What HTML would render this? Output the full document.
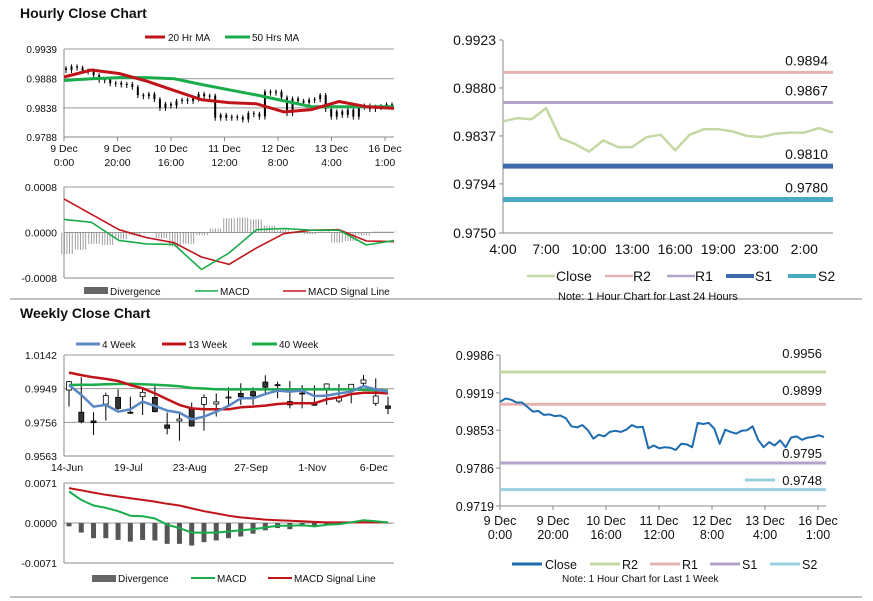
<!DOCTYPE html>
<html><head><meta charset="utf-8">
<style>
html,body{margin:0;padding:0;background:#fff;}
svg{display:block;font-family:"Liberation Sans",Arial,sans-serif;}
</style></head>
<body>
<svg id="root" width="873" height="601" viewBox="0 0 873 601" xmlns="http://www.w3.org/2000/svg">
<rect width="873" height="601" fill="#fff"/>
<text x="20" y="18" font-size="14" font-weight="bold" fill="#111">Hourly Close Chart</text>
<text x="20" y="318" font-size="14" font-weight="bold" fill="#111">Weekly Close Chart</text>
<line x1="10" y1="299" x2="862" y2="299" stroke="#999" stroke-width="1.2"/>
<line x1="10" y1="597" x2="862" y2="597" stroke="#999" stroke-width="1.2"/>
<g id="g"></g>
</svg>
<script>
// ---------- DATA ----------
const hourlyClose = [0.9903,0.9909,0.9907,0.9902,0.9902,0.9894,0.9886,0.9887,0.9880,0.9881,0.9878,0.9879,0.9874,0.9860,0.9858,0.9862,0.9853,0.9838,0.9845,0.9842,0.9850,0.9852,0.9850,0.9854,0.9862,0.9858,0.9859,0.9821,0.9826,0.9821,0.9823,0.9822,0.9818,0.9829,0.9828,0.9823,0.9866,0.9864,0.9866,0.9856,0.9829,0.9854,0.9850,0.9847,0.9852,0.9853,0.9860,0.9836,0.9823,0.9832,0.9826,0.9835,0.9823,0.9840,0.9842,0.9836,0.9840,0.9841,0.9844,0.9841];
const hourlyMA20 = [0.9891,0.9903,0.9897,0.9884,0.9868,0.9852,0.9847,0.9845,0.9831,0.9835,0.9849,0.9840,0.9837];
const hourlyMA50 = [0.9885,0.9888,0.9890,0.9890,0.9888,0.9878,0.9869,0.9860,0.9850,0.9840,0.9840,0.9840,0.9840];
const hourlyTicks = [0.9939,0.9888,0.9838,0.9788];
const hourlyXLabels = [["9 Dec","0:00"],["9 Dec","20:00"],["10 Dec","16:00"],["11 Dec","12:00"],["12 Dec","8:00"],["13 Dec","4:00"],["16 Dec","1:00"]];
const hMacd = [0.00023,0.00018,-0.00014,-0.00020,-0.00021,-0.00065,-0.00036,0.00005,0.00007,0.00004,0.00004,-0.00022,-0.00014];
const hSignal = [0.00059,0.00032,0.00005,-0.00009,-0.00018,-0.00043,-0.00056,-0.00027,-0.00002,0.00004,0.00005,-0.00015,-0.00016];
const hDiverg = [-0.00038,-0.00030,-0.00020,-0.00022,-0.00012,-0.00005,0,-0.00010,-0.00025,-0.00020,-0.00005,0.00007,0.00025,0.00026,0.00023,0.00012,0.00005,0.00002,-0.00003,0.00002,-0.00018,-0.00015,-0.00005,0.00002,0.00002];
const hMacdTicks = [0.0008,0,-0.0008];
const hMacdLabels = ["0.0008","0.0000","-0.0008"];

const wOpen  = [0.9941,0.9814,0.9764,0.9861,0.9899,0.9814,0.9903,0.9899,0.9741,0.9764,0.9831,0.9859,0.9861,0.9898,0.9922,0.9932,0.9987,0.9972,0.9875,0.9924,0.9865,0.9951,0.9878,0.9945,0.9980,0.9865,0.9850];
const wClose = [0.9989,0.9760,0.9754,0.9909,0.9836,0.9810,0.9928,0.9817,0.9722,0.9775,0.9735,0.9899,0.9873,0.9901,0.9903,0.9907,0.9957,0.9966,0.9856,0.9920,0.9854,0.9976,0.9899,0.9974,0.9999,0.9907,0.9836];
const wHigh  = [0.9993,1.0014,0.9814,0.9926,0.9945,0.9903,0.9951,0.9964,0.9812,0.9814,0.9869,0.9917,0.9922,0.9957,0.9980,0.9957,1.0026,0.9989,0.9993,0.9970,0.9968,0.9980,0.9976,0.9974,1.0027,1.0008,0.9903];
const wLow   = [0.9846,0.9750,0.9684,0.9766,0.9827,0.9804,0.9798,0.9814,0.9687,0.9651,0.9731,0.9708,0.9789,0.9856,0.9856,0.9856,0.9913,0.9894,0.9836,0.9836,0.9850,0.9856,0.9865,0.9865,0.9961,0.9850,0.9802];
const wMA4  = [0.9970,0.9913,0.9846,0.9856,0.9817,0.9831,0.9875,0.9850,0.9823,0.9812,0.9773,0.9789,0.9817,0.9850,0.9894,0.9894,0.9918,0.9938,0.9932,0.9938,0.9907,0.9909,0.9922,0.9932,0.9964,0.9945,0.9932];
const wMA13 = [1.0041,1.0027,1.0014,1.0005,0.9993,0.9970,0.9951,0.9922,0.9888,0.9856,0.9836,0.9831,0.9831,0.9831,0.9842,0.9846,0.9852,0.9861,0.9865,0.9865,0.9865,0.9888,0.9899,0.9918,0.9926,0.9926,0.9922];
const wMA40 = [0.9970,0.9971,0.9972,0.9974,0.9976,0.9977,0.9974,0.9972,0.9968,0.9963,0.9953,0.9950,0.9946,0.9945,0.9945,0.9945,0.9945,0.9945,0.9945,0.9945,0.9945,0.9945,0.9945,0.9945,0.9943,0.9941,0.9938];
const wTicks = [1.0142,0.9949,0.9756,0.9563];
const wXLabels = ["14-Jun","19-Jul","23-Aug","27-Sep","1-Nov","6-Dec"];
const wMacd = [0.0056,0.0041,0.0031,0.0027,0.0021,0.0013,0.0012,0.0008,-0.0003,-0.0009,-0.0017,-0.0017,-0.0017,-0.0015,-0.0013,-0.0011,-0.0008,-0.0005,-0.0005,-0.0004,-0.0006,-0.0003,-0.0002,0.0001,0.0005,0.0003,0.0001];
const wSignal = [0.0062,0.0058,0.0054,0.0050,0.0047,0.0044,0.0041,0.0038,0.0034,0.0031,0.0026,0.0021,0.0017,0.0013,0.0010,0.0008,0.0006,0.0005,0.0004,0.0003,0.0002,0.0001,0.0001,0.0001,0.0001,0.0001,0.0001];
const wDiverg = [-0.0006,-0.0017,-0.0027,-0.0027,-0.0030,-0.0033,-0.0030,-0.0031,-0.0037,-0.0037,-0.0040,-0.0034,-0.0031,-0.0027,-0.0024,-0.0019,-0.0013,-0.0009,-0.0011,-0.0006,-0.0006,-0.0003,-0.0002,0,0.0001,0,-0.0001];
const wMacdTicks = [0.0071,0,-0.0071];
const wMacdLabels = ["0.0071","0.0000","-0.0071"];

const dayClose = [0.9850,0.9853,0.9852,0.9862,0.9835,0.9830,0.9823,0.9833,0.9827,0.9827,0.9836,0.9838,0.9824,0.9838,0.9843,0.9843,0.9841,0.9837,0.9836,0.9839,0.9840,0.9840,0.9844,0.9840];
const dayLevels = [0.9894,0.9867,0.9810,0.9780];
const dayLevelNames = ["R2","R1","S1","S2"];
const dayTicks = [0.9923,0.9880,0.9837,0.9794,0.9750];
const dayXLabels = ["4:00","7:00","10:00","13:00","16:00","19:00","23:00","2:00"];
const dayXIdx = [0,3,6,9,12,15,18,21];

const weekLevels = [0.9956,0.9899,0.9795,0.9748];
const weekLevelNames = ["R2","R1","S1","S2"];
const weekTicks = [0.9986,0.9919,0.9853,0.9786,0.9719];

// ---------- HELPERS ----------
const NS="http://www.w3.org/2000/svg";
const G=document.getElementById('g');
function el(tag, attrs, parent){const e=document.createElementNS(NS,tag);for(const k in attrs)e.setAttribute(k,attrs[k]);(parent||G).appendChild(e);return e;}
function txt(x,y,s,size,anchor,fill){const t=el('text',{x:x,y:y,'font-size':size,'text-anchor':anchor||'start',fill:fill||'#111'});t.textContent=s;return t;}
function lin(v0,v1,p0,p1){return v=>p0+(v-v0)/(v1-v0)*(p1-p0);}
function poly(xs,ys,stroke,w){let d='';for(let i=0;i<xs.length;i++)d+=(i?'L':'M')+xs[i].toFixed(1)+','+ys[i].toFixed(1);return el('path',{d:d,fill:'none',stroke:stroke,'stroke-width':w,'stroke-linejoin':'round'});}
function axisFrame(x0,x1,y0,y1){el('line',{x1:x0,y1:y0,x2:x0,y2:y1,stroke:'#888','stroke-width':1});el('line',{x1:x0,y1:y1,x2:x1,y2:y1,stroke:'#888','stroke-width':1});}

// ---------- HOURLY PRICE ----------
(function(){
  const x0=64,x1=394,yT=49,yB=137;
  const y=lin(0.9939,0.9788,yT,yB);
  hourlyTicks.forEach((v,i)=>{
    const gl=el('line',{x1:x0,x2:x1,y1:y(v),y2:y(v),stroke:'#999','stroke-width':1});
    
    
    const t=txt(x0-7,y(v)+4,v.toFixed(4),10,'end');
    
    
  });
  axisFrame(x0,x1,yT,yB);
  const n=hourlyClose.length;
  const x=i=>x0+2+i*(x1-x0-4)/(n-1);
  for(let i=0;i<n;i++){
    const o=i?hourlyClose[i-1]:hourlyClose[0]+0.0003, c=hourlyClose[i];
    const top=Math.min(y(o),y(c)), h=Math.max(1,Math.abs(y(o)-y(c)));
    const w=el('line',{x1:x(i),x2:x(i),y1:top-2,y2:top+h+3,stroke:'#000','stroke-width':1});
    
    
    el('rect',{x:x(i)-1,y:top,width:2,height:h,fill:'#000'});
  }
  const m=hourlyMA20.length;
  const xm=i=>x0+i*(x1-x0)/(m-1);
  const g50=poly(hourlyMA50.map((v,i)=>xm(i)),hourlyMA50.map(y),'#1aab4a',3);
  
  
  const r20=poly(hourlyMA20.map((v,i)=>xm(i)),hourlyMA20.map(y),'#c0141a',3);
  
  
  hourlyXLabels.forEach((l,i)=>{
    const xx=x0+i*53.5;
    el('line',{x1:xx,x2:xx,y1:yB,y2:yB+4,stroke:'#888'});
    const t=txt(xx,yB+15,l[0],10.5,'middle');
    
    
    txt(xx,yB+29,l[1],10.5,'middle');
  });
  el('line',{x1:145,x2:165,y1:37,y2:37,stroke:'#c0141a','stroke-width':3});
  txt(168,41,'20 Hr MA',10);
  el('line',{x1:225,x2:250,y1:37,y2:37,stroke:'#1aab4a','stroke-width':3});
  txt(252,41,'50 Hrs MA',10);
})();

// ---------- HOURLY MACD ----------
(function(){
  const x0=64,x1=394,yT=187,yB=278;
  const y=lin(0.0008,-0.0008,yT,yB);
  hMacdTicks.forEach((v,i)=>{
    if(v!==-0.0008) el('line',{x1:x0,x2:x1,y1:y(v),y2:y(v),stroke:'#999'});
    const t=txt(x0-7,y(v)+4,hMacdLabels[i],10.5,'end');
    
    
  });
  axisFrame(x0,x1,yT,yB);
  const nd=hDiverg.length;
  for(let i=0;i<nd;i++){
    const xd=x0+3+i*(x1-x0-6)/(nd-1);
    for(let k=-2;k<=2;k++){
      const b=el('line',{x1:xd+k*2.6,x2:xd+k*2.6,y1:y(0),y2:y(hDiverg[i]),stroke:'#888','stroke-width':0.8});
      
      
    }
  }
  const m=hMacd.length, xm=i=>x0+i*(x1-x0)/(m-1);
  const s=poly(hSignal.map((v,i)=>xm(i)),hSignal.map(y),'#c0141a',1.6);
  
  
  const mc=poly(hMacd.map((v,i)=>xm(i)),hMacd.map(y),'#1aab4a',1.6);
  
  
  el('rect',{x:84,y:287,width:24,height:7,fill:'#666'});
  txt(110,295,'Divergence',10);
  el('line',{x1:195,x2:218,y1:291,y2:291,stroke:'#1aab4a','stroke-width':1.6});
  txt(220,295,'MACD',10);
  el('line',{x1:283,x2:306,y1:291,y2:291,stroke:'#c0141a','stroke-width':1.6});
  txt(308,295,'MACD Signal Line',10);
})();

// ---------- WEEKLY PRICE ----------
(function(){
  const x0=64,x1=394,yT=355,yB=456;
  const y=lin(1.0142,0.9563,yT,yB);
  wTicks.forEach(v=>{
    el('line',{x1:x0,x2:x1,y1:y(v),y2:y(v),stroke:'#999'});
    const t=txt(x0-7,y(v)+4,v.toFixed(4),10.5,'end');
    
    
  });
  axisFrame(x0,x1,yT,yB);
  const x=i=>69+i*12.27;
  for(let i=0;i<wOpen.length;i++){
    const w=el('line',{x1:x(i),x2:x(i),y1:y(wHigh[i]),y2:y(wLow[i]),stroke:'#000','stroke-width':1});
    
    
    const up=wClose[i]>=wOpen[i];
    const top=Math.min(y(wOpen[i]),y(wClose[i])), h=Math.max(1,Math.abs(y(wOpen[i])-y(wClose[i])));
    const b=el('rect',{x:x(i)-2.5,y:top,width:5,height:h,fill:up?'#fff':'#333',stroke:'#000','stroke-width':0.8});
    
    
  }
  const l40=poly(wMA40.map((v,i)=>x(i)),wMA40.map(y),'#1aab4a',2.5);
  
  
  const l13=poly(wMA13.map((v,i)=>x(i)),wMA13.map(y),'#c0141a',2.5);
  
  
  const l4=poly(wMA4.map((v,i)=>x(i)),wMA4.map(y),'#5b87c2',2.5);
  
  
  wXLabels.forEach((l,i)=>{
    const xx=x(i*5)-5;
    const t=txt(xx+3,yB+15,l,10.5,'middle');
    
    
  });
  el('line',{x1:76,x2:100,y1:344,y2:344,stroke:'#5b87c2','stroke-width':3});
  txt(102,348,'4 Week',10);
  el('line',{x1:162,x2:186,y1:344,y2:344,stroke:'#c0141a','stroke-width':3});
  txt(188,348,'13 Week',10);
  el('line',{x1:252,x2:277,y1:344,y2:344,stroke:'#1aab4a','stroke-width':3});
  txt(279,348,'40 Week',10);
})();

// ---------- WEEKLY MACD ----------
(function(){
  const x0=64,x1=394,yT=483,yB=563;
  const y=lin(0.0071,-0.0071,yT,yB);
  wMacdTicks.forEach((v,i)=>{
    el('line',{x1:x0,x2:x1,y1:y(v),y2:y(v),stroke:'#999'});
    const t=txt(x0-7,y(v)+4,wMacdLabels[i],10.5,'end');
    
    
  });
  axisFrame(x0,x1,yT,yB);
  const x=i=>69+i*12.27;
  wDiverg.forEach((v,i)=>{
    const b=el('rect',{x:x(i)-2.5,y:Math.min(y(0),y(v)),width:5,height:Math.max(0.5,Math.abs(y(v)-y(0))),fill:'#555'});
    
    
  });
  const s=poly(wSignal.map((v,i)=>x(i)),wSignal.map(y),'#c0141a',2);
  
  
  const m=poly(wMacd.map((v,i)=>x(i)),wMacd.map(y),'#1aab4a',2);
  
  
  el('rect',{x:92,y:575,width:24,height:7,fill:'#666'});
  txt(118,582,'Divergence',10);
  el('line',{x1:191,x2:215,y1:578,y2:578,stroke:'#1aab4a','stroke-width':2});
  txt(217,582,'MACD',10);
  el('line',{x1:268,x2:292,y1:578,y2:578,stroke:'#c0141a','stroke-width':2});
  txt(294,582,'MACD Signal Line',10);
})();

// ---------- 24H CHART ----------
(function(){
  const x0=503,x1=833,yT=40,yB=233;
  const y=lin(0.9923,0.9750,yT,yB);
  axisFrame(x0,x1,yT,yB);
  dayTicks.forEach(v=>{
    el('line',{x1:x0-4,x2:x0,y1:y(v),y2:y(v),stroke:'#888'});
    const t=txt(x0-7,y(v)+5,v.toFixed(4),14,'end');
    
    
  });
  const cols=['#e6b3b3','#b2a3c9','#3d6aa8','#4aa8c0'];
  const widths=[3,3,5,5];
  dayLevels.forEach((v,i)=>{
    const l=el('line',{x1:x0,x2:x1,y1:y(v),y2:y(v),stroke:cols[i],'stroke-width':widths[i]});
    
    
    const t=txt(828,y(v)-7,v.toFixed(4),14,'end');
    
    
  });
  const n=dayClose.length, x=i=>x0+i*(x1-x0)/(n-1);
  const c=poly(dayClose.map((v,i)=>x(i)),dayClose.map(y),'#c4d8a4',2.5);
  
  
  dayXIdx.forEach((k,i)=>{
    const t=txt(x(k),yB+21,dayXLabels[i],14,'middle');
    
    
  });
  const lg=[['Close','#c4d8a4',527,556],['R2','#e6b3b3',605,633],['R1','#b2a3c9',667,695],['S1','#3d6aa8',726,755],['S2','#4aa8c0',788,818]];
  lg.forEach(e=>{el('line',{x1:e[2],x2:e[2]+28,y1:276,y2:276,stroke:e[1],'stroke-width':e[0]==='S1'||e[0]==='S2'?4:2.5});txt(e[3],281,e[0],14);});
  txt(558,300,'Note: 1 Hour Chart for Last 24 Hours',11);
})();

// ---------- WEEK CHART ----------
(function(){
  const x0=500,x1=826,yT=355,yB=506;
  const y=lin(0.9986,0.9719,yT,yB);
  axisFrame(x0,x1,yT,yB);
  weekTicks.forEach(v=>{
    el('line',{x1:x0-4,x2:x0,y1:y(v),y2:y(v),stroke:'#888'});
    const t=txt(x0-6,y(v)+5,v.toFixed(4),12.5,'end');
    
    
  });
  const cols=['#c4d8a4','#e6b3b3','#b2a3c9','#9ccfdd'];
  weekLevels.forEach((v,i)=>{
    const l=el('line',{x1:x0,x2:x1,y1:y(v),y2:y(v),stroke:cols[i],'stroke-width':3});
    
    
  });
  const labY=[358,395,458,485];
  weekLevels.forEach((v,i)=>{
    const t=txt(822,labY[i],v.toFixed(4),13,'end');
    
    
  });
  el('line',{x1:745,x2:775,y1:480,y2:480,stroke:'#9ccfdd','stroke-width':3});
  const n=hourlyClose.length, x=i=>x0+i*(x1-2-x0)/(n-1);
  const c=poly(hourlyClose.map((v,i)=>x(i)),hourlyClose.map(y),'#1f6bb0',2);
  
  
  hourlyXLabels.forEach((l,i)=>{
    const xx=x0+i*53;
    el('line',{x1:xx,x2:xx,y1:yB,y2:yB+4,stroke:'#888'});
    const t=txt(xx,yB+19,l[0],12.5,'middle');
    
    
    txt(xx,yB+33,l[1],12.5,'middle');
  });
  const lg=[['Close','#1f6bb0',512,545],['R2','#c4d8a4',590,622],['R1','#e6b3b3',650,682],['S1','#b2a3c9',710,742],['S2','#9ccfdd',770,802]];
  lg.forEach(e=>{el('line',{x1:e[2],x2:e[2]+30,y1:564,y2:564,stroke:e[1],'stroke-width':3});txt(e[3],569,e[0],12.5);});
  txt(562,582,'Note: 1 Hour Chart for Last 1 Week',10);
})();
</script>
</body></html>
